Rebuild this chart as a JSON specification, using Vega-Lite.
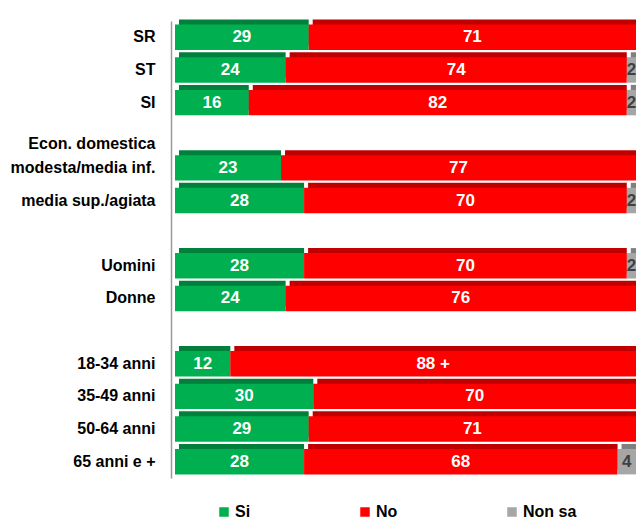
{
  "$schema": "https://vega.github.io/schema/vega-lite/v6.json",
  "autosize": {"type": "none"},
  "padding": {"left": 175, "top": 21, "right": 6, "bottom": 45},
  "width": 461,
  "height": 457,
  "background": "white",
  "data": {
    "values": [
      {"group": "SR", "cat": "Si", "ord": 1, "value": 29, "label": "29"},
      {"group": "SR", "cat": "No", "ord": 2, "value": 71, "label": "71"},
      {"group": "ST", "cat": "Si", "ord": 1, "value": 24, "label": "24"},
      {"group": "ST", "cat": "No", "ord": 2, "value": 74, "label": "74"},
      {"group": "ST", "cat": "Non sa", "ord": 3, "value": 2, "label": "2"},
      {"group": "SI", "cat": "Si", "ord": 1, "value": 16, "label": "16"},
      {"group": "SI", "cat": "No", "ord": 2, "value": 82, "label": "82"},
      {"group": "SI", "cat": "Non sa", "ord": 3, "value": 2, "label": "2"},
      {"group": "modesta/media inf.", "cat": "Si", "ord": 1, "value": 23, "label": "23"},
      {"group": "modesta/media inf.", "cat": "No", "ord": 2, "value": 77, "label": "77"},
      {"group": "media sup./agiata", "cat": "Si", "ord": 1, "value": 28, "label": "28"},
      {"group": "media sup./agiata", "cat": "No", "ord": 2, "value": 70, "label": "70"},
      {"group": "media sup./agiata", "cat": "Non sa", "ord": 3, "value": 2, "label": "2"},
      {"group": "Uomini", "cat": "Si", "ord": 1, "value": 28, "label": "28"},
      {"group": "Uomini", "cat": "No", "ord": 2, "value": 70, "label": "70"},
      {"group": "Uomini", "cat": "Non sa", "ord": 3, "value": 2, "label": "2"},
      {"group": "Donne", "cat": "Si", "ord": 1, "value": 24, "label": "24"},
      {"group": "Donne", "cat": "No", "ord": 2, "value": 76, "label": "76"},
      {"group": "18-34 anni", "cat": "Si", "ord": 1, "value": 12, "label": "12"},
      {"group": "18-34 anni", "cat": "No", "ord": 2, "value": 88, "label": "88 +"},
      {"group": "35-49 anni", "cat": "Si", "ord": 1, "value": 30, "label": "30"},
      {"group": "35-49 anni", "cat": "No", "ord": 2, "value": 70, "label": "70"},
      {"group": "50-64 anni", "cat": "Si", "ord": 1, "value": 29, "label": "29"},
      {"group": "50-64 anni", "cat": "No", "ord": 2, "value": 71, "label": "71"},
      {"group": "65 anni e +", "cat": "Si", "ord": 1, "value": 28, "label": "28"},
      {"group": "65 anni e +", "cat": "No", "ord": 2, "value": 68, "label": "68"},
      {"group": "65 anni e +", "cat": "Non sa", "ord": 3, "value": 4, "label": "4"}
    ]
  },
  "transform": [
    {"stack": "value", "groupby": ["group"], "sort": [{"field": "ord"}], "as": ["v0", "v1"]},
    {"calculate": "(datum.v0 + datum.v1) / 2", "as": "mid"}
  ],
  "encoding": {
    "y": {
      "field": "group",
      "type": "nominal",
      "title": null,
      "scale": {
        "domain": ["SR", "ST", "SI", "Econ. domestica", "modesta/media inf.", "media sup./agiata", "g2", "Uomini", "Donne", "g3", "18-34 anni", "35-49 anni", "50-64 anni", "65 anni e +"],
        "paddingInner": 0.22,
        "paddingOuter": 0.11
      },
      "axis": {
        "labelExpr": "datum.value === 'g2' || datum.value === 'g3' ? '' : datum.value",
        "labelFont": "Liberation Sans",
        "labelFontSize": 16,
        "labelFontWeight": "bold",
        "labelColor": "#000000",
        "labelPadding": 16,
        "labelOffset": {"condition": {"test": "datum.value === 'Econ. domestica'", "value": 9}, "value": 0},
        "labelLimit": 200,
        "ticks": false,
        "tickSize": 0,
        "domainColor": "#9a9a9a",
        "domainWidth": 1.5,
        "offset": 4,
        "grid": false
      }
    }
  },
  "layer": [
    {
      "mark": {"type": "bar", "xOffset": 4, "yOffset": -5},
      "encoding": {
        "x": {"field": "v0", "type": "quantitative", "scale": {"domain": [0, 100]}, "axis": null},
        "x2": {"field": "v1"},
        "color": {
          "field": "cat",
          "type": "nominal",
          "scale": {"domain": ["Si", "No", "Non sa"], "range": ["#00803a", "#c00000", "#808080"]},
          "legend": null
        }
      }
    },
    {
      "mark": {"type": "bar"},
      "encoding": {
        "x": {"field": "v0", "type": "quantitative", "scale": {"domain": [0, 100]}, "axis": null},
        "x2": {"field": "v1"},
        "color": {
          "field": "cat",
          "type": "nominal",
          "title": null,
          "scale": {"domain": ["Si", "No", "Non sa"], "range": ["#00b050", "#ff0000", "#a6a6a6"]},
          "legend": {
            "orient": "none",
            "legendX": 41,
            "legendY": 483,
            "direction": "horizontal",
            "symbolType": "square",
            "symbolSize": 90,
            "symbolStrokeWidth": 0,
            "labelFont": "Liberation Sans",
            "labelFontSize": 16,
            "labelFontWeight": "bold",
            "labelColor": "#000000",
            "labelOffset": 3,
            "columnPadding": 106
          }
        }
      }
    },
    {
      "mark": {"type": "text", "font": "Liberation Sans", "fontSize": 17, "fontWeight": "bold", "baseline": "middle", "align": "center"},
      "encoding": {
        "x": {"field": "mid", "type": "quantitative", "scale": {"domain": [0, 100]}, "axis": null},
        "text": {"field": "label"},
        "color": {"condition": {"test": "datum.cat === 'Non sa'", "value": "#404040"}, "value": "#ffffff"}
      }
    }
  ],
  "resolve": {"scale": {"color": "independent"}},
  "config": {"view": {"stroke": null}}
}
